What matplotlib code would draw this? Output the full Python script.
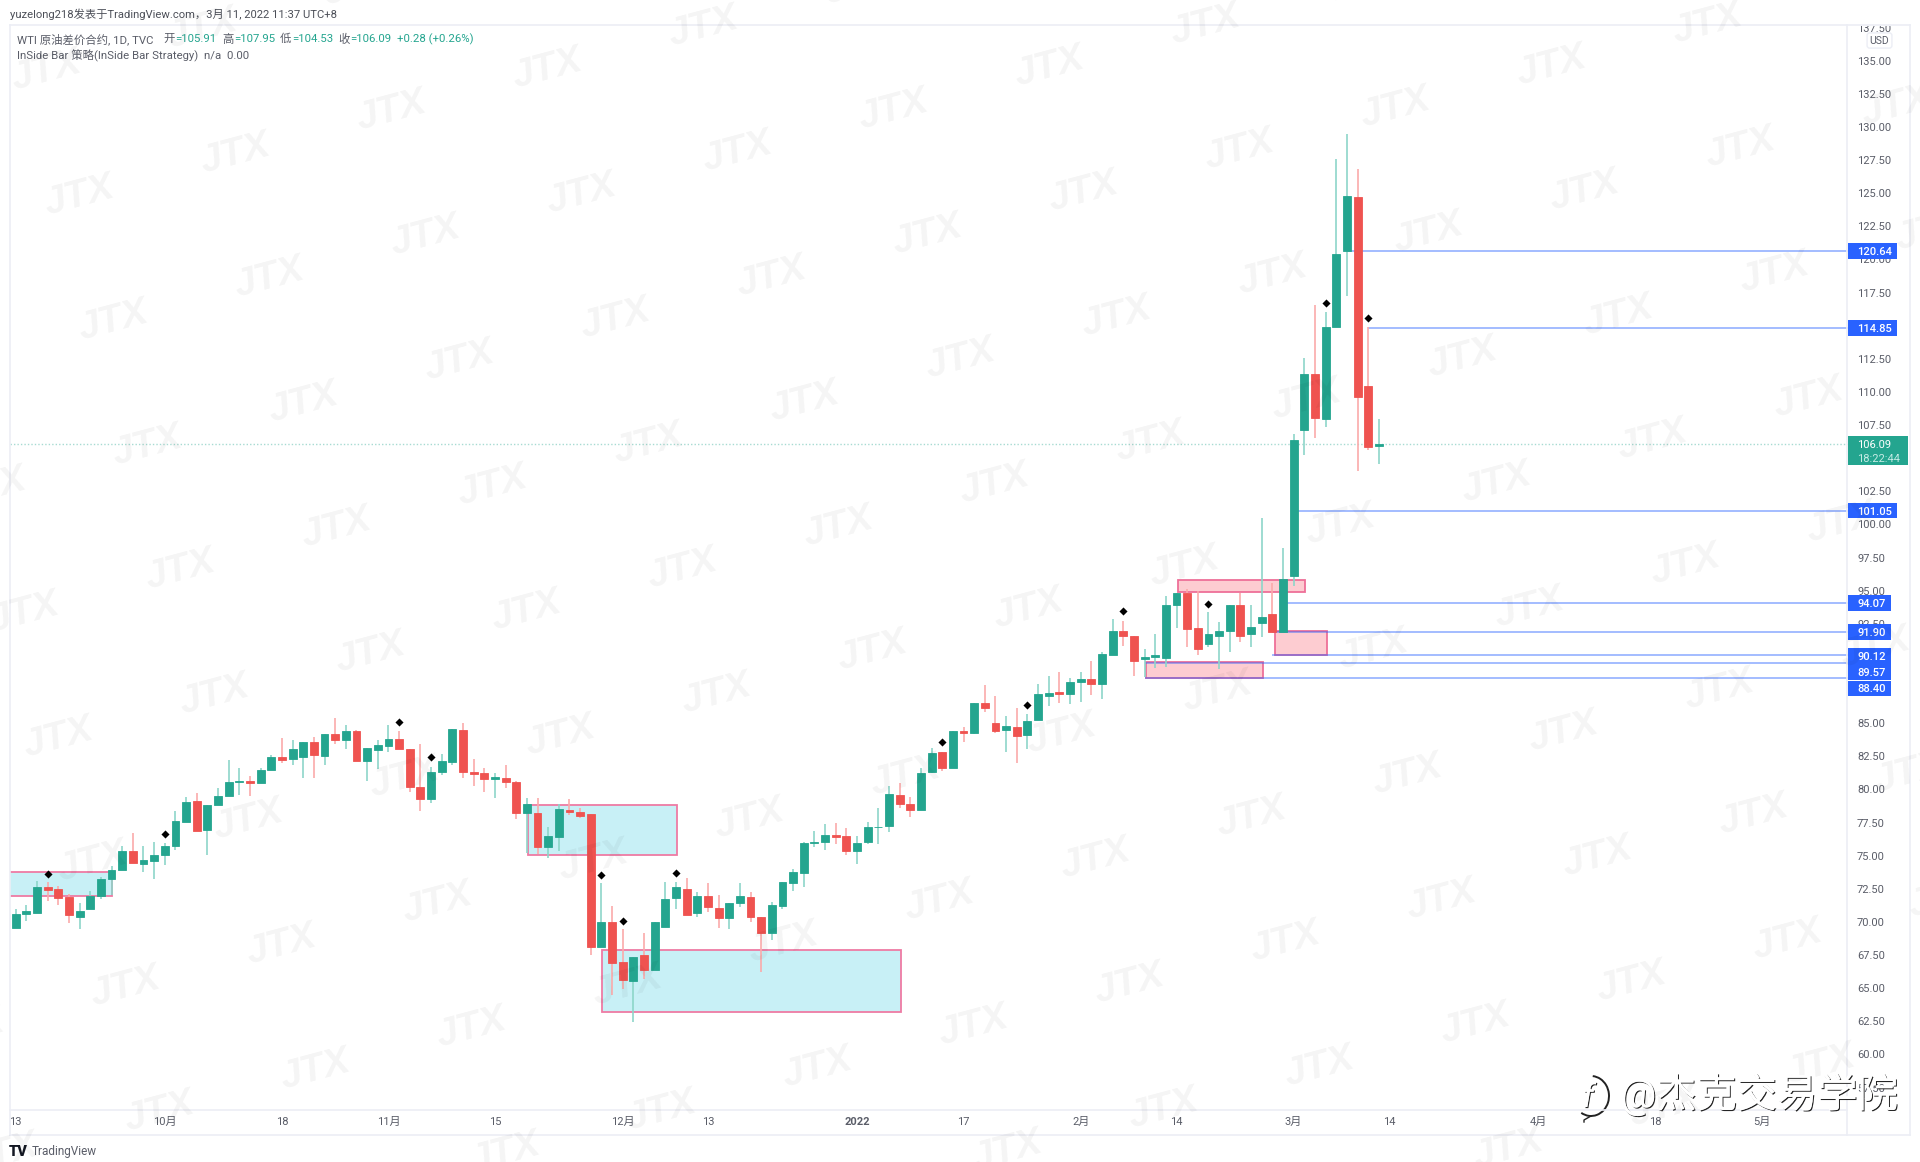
import numpy as np
import matplotlib.pyplot as plt
from matplotlib.patches import Rectangle, Arc
from matplotlib.transforms import Bbox, TransformedBbox, IdentityTransform, blended_transform_factory
import matplotlib.patheffects as pe

plt.rcParams['font.family'] = ['Roboto', 'Noto Sans CJK SC', 'DejaVu Sans']

# daily WTI bars, counted from 13 Sep 2021
opens = [69.57, 70.58, 70.70, 72.67, 72.52, 71.91, 70.38, 71.00, 71.96, 73.22,
         73.92, 75.38, 74.35, 74.63, 75.08, 75.74, 77.57, 79.11, 76.94, 78.83,
         79.51, 80.54, 80.62, 80.52, 81.45, 82.45, 82.30, 82.45, 83.56, 82.53,
         84.19, 83.74, 84.41, 82.15, 83.01, 83.31, 83.84, 83.03, 80.16, 79.28,
         81.30, 82.08, 84.47, 81.35, 81.27, 80.77, 80.89, 80.54, 78.20, 78.25,
         75.63, 76.44, 78.45, 78.32, 78.12, 68.14, 70.02, 67.00, 65.54, 67.51,
         66.35, 69.64, 71.78, 72.51, 70.65, 71.96, 71.08, 70.27, 71.41, 71.88,
         70.35, 69.19, 71.20, 72.97, 73.72, 75.93, 76.00, 76.59, 76.51, 75.36,
         76.01, 77.14, 77.24, 79.61, 78.88, 78.42, 81.34, 82.83, 81.64, 84.44,
         84.24, 86.55, 85.04, 84.51, 84.74, 84.13, 85.22, 87.08, 87.38, 87.23,
         88.11, 88.34, 87.96, 90.17, 91.99, 91.61, 89.82, 89.97, 89.95, 93.90,
         94.86, 92.21, 90.96, 91.60, 91.99, 93.92, 91.76, 92.54, 93.25, 91.89,
         96.11, 107.13, 111.35, 107.93, 114.93, 120.66, 124.69, 110.45, 105.91]
highs = [70.96, 71.26, 73.09, 73.00, 72.72, 72.11, 71.46, 72.31, 73.42, 74.23,
         75.76, 76.69, 75.76, 76.04, 75.94, 78.40, 79.46, 79.76, 78.83, 80.11,
         82.20, 81.60, 81.04, 81.60, 82.60, 83.91, 83.74, 83.56, 83.99, 84.19,
         85.40, 84.87, 84.45, 83.11, 83.74, 84.89, 84.44, 83.03, 83.41, 81.72,
         82.68, 84.54, 85.00, 82.33, 81.60, 81.22, 81.85, 80.66, 79.33, 79.33,
         77.19, 78.90, 79.26, 78.63, 78.12, 72.92, 71.20, 69.44, 67.38, 69.14,
         70.02, 73.04, 73.04, 73.34, 72.29, 72.97, 72.03, 71.46, 72.97, 72.26,
         70.35, 71.48, 73.02, 73.97, 76.06, 76.89, 77.39, 77.49, 77.12, 76.49,
         77.57, 78.63, 80.26, 80.46, 79.46, 81.59, 83.10, 82.83, 84.41, 84.74,
         86.55, 87.91, 87.05, 85.54, 86.12, 85.70, 87.96, 88.56, 88.84, 88.39,
         88.84, 89.70, 90.40, 92.90, 92.71, 91.61, 90.58, 91.73, 94.63, 94.81,
         95.13, 95.00, 93.37, 92.64, 93.92, 94.86, 93.92, 100.52, 95.61, 98.20,
         106.82, 112.54, 116.56, 116.06, 127.56, 129.47, 126.80, 114.88, 107.95]
lows = [69.55, 70.05, 70.70, 71.61, 71.28, 69.90, 69.50, 71.00, 71.71, 72.04,
        73.92, 74.43, 73.77, 73.22, 74.28, 75.43, 77.57, 76.84, 75.06, 78.83,
        79.51, 79.58, 79.51, 80.50, 81.45, 81.97, 81.87, 80.87, 80.87, 81.85,
        83.43, 83.08, 82.15, 80.67, 81.52, 82.86, 83.03, 79.81, 78.38, 79.01,
        81.12, 81.87, 80.84, 80.26, 79.83, 79.33, 80.09, 77.75, 75.18, 75.13,
        74.85, 75.36, 78.07, 77.87, 67.51, 68.14, 64.49, 64.91, 62.47, 65.67,
        66.35, 69.64, 70.98, 70.55, 70.40, 70.78, 69.57, 69.49, 71.10, 70.00,
        66.20, 68.64, 70.95, 72.36, 72.61, 75.63, 75.43, 75.88, 75.05, 74.35,
        75.86, 75.88, 76.82, 78.58, 77.95, 78.42, 81.27, 81.42, 81.64, 83.58,
        84.19, 85.87, 84.29, 82.85, 81.97, 83.05, 85.22, 86.30, 86.50, 86.45,
        86.63, 87.15, 86.85, 90.17, 90.83, 88.59, 88.46, 89.14, 89.22, 92.16,
        90.78, 90.13, 90.73, 89.09, 90.40, 91.11, 90.73, 91.53, 91.89, 91.89,
        95.36, 105.24, 106.55, 107.33, 114.93, 117.24, 104.06, 105.62, 104.53]
closes = [70.58, 70.80, 72.67, 72.44, 71.84, 70.50, 70.80, 71.99, 73.22, 73.92,
          75.36, 74.43, 74.65, 75.03, 75.76, 77.60, 79.03, 76.84, 78.83, 79.53,
          80.54, 80.62, 80.52, 81.47, 82.48, 82.25, 83.03, 83.56, 82.60, 84.19,
          83.74, 84.39, 82.15, 83.11, 83.33, 83.84, 83.03, 80.16, 79.28, 81.32,
          82.18, 84.54, 81.32, 81.14, 80.79, 80.92, 80.56, 78.20, 78.88, 75.63,
          76.46, 78.55, 78.27, 78.02, 68.14, 70.02, 66.93, 65.62, 67.38, 66.35,
          70.02, 71.71, 72.66, 70.55, 71.93, 71.13, 70.27, 71.46, 71.96, 70.35,
          69.19, 71.28, 73.02, 73.75, 75.96, 76.06, 76.59, 76.44, 75.36, 75.96,
          77.17, 77.19, 79.66, 78.88, 78.43, 81.27, 82.73, 81.64, 84.41, 84.29,
          86.55, 86.15, 84.44, 84.76, 84.01, 85.17, 87.20, 87.28, 87.23, 88.14,
          88.34, 87.96, 90.20, 91.99, 91.61, 89.72, 89.97, 90.12, 93.90, 94.81,
          92.11, 90.60, 91.71, 91.99, 93.92, 91.61, 92.26, 92.99, 91.89, 95.86,
          106.37, 111.35, 108.06, 114.93, 120.39, 124.81, 109.64, 105.82, 106.09]

signal_bars = [3, 14, 36, 39, 55, 57, 62, 87, 95, 104, 112, 123, 127]
signal_prices = [73.62, 76.61, 85.07, 82.43, 73.54, 70.09, 73.67, 83.56, 86.35, 93.47, 94.00, 116.69, 115.56]

# zones: left bar, right bar, bottom, top
demand_zones = [(-6, 9.0, 71.98, 73.79), (48.1, 62.1, 75.03, 78.83), (55.05, 83.1, 63.23, 67.86)]
supply_zones = [(109.1, 121.1, 94.88, 95.81), (118.2, 123.1, 90.15, 91.96), (106.1, 117.1, 88.44, 89.64)]

levels = [120.64, 114.85, 101.05, 94.07, 91.90, 90.12, 89.57, 88.40]
level_starts = [125, 127, 120, 119, 118, 118, 106, 106]
# the three lowest tags get pushed apart so they stay readable
level_tag_prices = [120.64, 114.85, 101.05, 94.07, 91.90, 90.05, 88.85, 87.62]
last_price = 106.09
countdown = '18:22:44'

date_ticks = [0, 14, 25, 35, 45, 57, 65, 79, 89, 100, 109, 120, 129, 143, 154, 164]
date_labels = ['13', '10月', '18', '11月', '15', '12月', '13', '2022', '17', '2月', '14', '3月', '14', '4月', '18', '5月']
price_ticks = np.arange(57.5, 140, 2.5)

UP = '#24a58f'
DOWN = '#ef5350'
UP_WICK = '#8dd6c9'
DOWN_WICK = '#fbaaaa'
BLUE = '#2962ff'
FRAME = '#eceef5'
TEXT = '#5a5d68'

W, H = 1920, 1162
fig = plt.figure(figsize=(W / 100, H / 100), dpi=100, facecolor='white')
ax = fig.add_axes([10 / W, 1 - 1110 / H, 1838 / W, 1085 / H])
ax.set_xlim(-0.535, 172.05)
ax.set_ylim(55.81, 137.69)
for s in ax.spines.values():
    s.set_visible(False)

x = np.arange(len(opens))
o = np.array(opens)
c = np.array(closes)
up = c >= o

# zones sit under everything else
for left, right, lo, hi in demand_zones:
    ax.add_patch(Rectangle((left, lo), right - left, hi - lo, fc='#c8f0f6', ec='#ee7ba4', lw=1.3, zorder=1))
for left, right, lo, hi in supply_zones:
    ax.add_patch(Rectangle((left, lo), right - left, hi - lo, fc='#fdccd1', ec='#ee6f98', lw=1.3, zorder=1))

for lv, st in zip(levels, level_starts):
    ax.plot([st, 172.05], [lv, lv], color=BLUE, alpha=0.5, lw=1.2, zorder=2, solid_capstyle='butt')
ax.axhline(last_price, color=UP, alpha=0.4, lw=1, ls=(0, (1, 1.5)), zorder=2)

# candles
ax.vlines(x, lows, highs, colors=[UP_WICK if u else DOWN_WICK for u in up], lw=1.2, zorder=3)
ax.bar(x, np.abs(c - o), bottom=np.minimum(o, c), width=0.74, color=[UP if u else DOWN for u in up],
       edgecolor=[UP if u else DOWN for u in up], lw=0.6, zorder=4)
ax.scatter(signal_bars, signal_prices, marker='D', s=17, color='black', lw=0, zorder=5)

# time axis
ax.set_xticks(date_ticks)
ax.set_xticklabels(date_labels, fontsize=8, color=TEXT)
ax.get_xticklabels()[7].set_fontweight('bold')
ax.tick_params(axis='x', length=0, pad=5)

# price axis, the top label gets cut by the pane edge
ax.yaxis.tick_right()
ax.set_yticks(price_ticks)
ax.set_yticklabels(['%.2f' % p for p in price_ticks], fontsize=8, color=TEXT)
ax.tick_params(axis='y', length=0, pad=6.5)
pane = TransformedBbox(Bbox([[0, 0], [W, H - 26]]), IdentityTransform())
for lab in ax.get_yticklabels():
    lab.set_clip_box(pane)
    lab.set_clip_on(True)

# price tags on the axis
tag_tr = blended_transform_factory(ax.transAxes, ax.transData)
px = 1 / 1838
for lv, tag in zip(levels, level_tag_prices):
    w = 49 if lv >= 100 else 43
    ax.add_patch(Rectangle((1.0, tag - 0.6), w * px, 1.2, transform=tag_tr, fc=BLUE, ec='none', clip_on=False, zorder=6))
    ax.text(1.0 + 9.5 * px, tag, '%.2f' % lv, transform=tag_tr, color='white', fontsize=8, fontweight='medium',
            va='center_baseline', ha='left', clip_on=False, zorder=7)
ax.add_patch(Rectangle((1.0, last_price - 1.6), 60 * px, 2.19, transform=tag_tr, fc=UP, ec='none', clip_on=False, zorder=6))
ax.text(1.0 + 9 * px, last_price, '%.2f' % last_price, transform=tag_tr, color='white', fontsize=8,
        va='center_baseline', clip_on=False, zorder=7)
ax.text(1.0 + 9 * px, last_price - 1.06, countdown, transform=tag_tr, color='#c4ebe4', fontsize=8,
        va='center_baseline', clip_on=False, zorder=7)

# overlay in pixel coordinates for the frame, captions and watermarks
top = fig.add_axes([0, 0, 1, 1], zorder=10)
top.set_xlim(0, W)
top.set_ylim(H, 0)
top.axis('off')

top.plot([10, 1910], [25, 25], color=FRAME, lw=1.2)
top.plot([10, 1910], [1135, 1135], color=FRAME, lw=1.2)
top.plot([10, 1847], [1110, 1110], color=FRAME, lw=1.2)
top.plot([10, 10], [25, 1135], color=FRAME, lw=1.2)
top.plot([1847, 1847], [25, 1135], color=FRAME, lw=1.2)
top.plot([1910, 1910], [25, 1135], color=FRAME, lw=1.2)

top.text(1879.5, 40.5, 'USD', fontsize=7.5, color=TEXT, ha='center', va='center',
         bbox=dict(boxstyle='round,pad=0.25', fc='white', ec=FRAME, lw=1))

top.text(10, 14, 'yuzelong218发表于TradingView.com，3月 11, 2022 11:37 UTC+8', fontsize=8.1, color='#4c4f58', va='center')
top.text(17, 39, 'WTI 原油差价合约, 1D, TVC', fontsize=8.2, color=TEXT, va='center')
for xp, t, col in [(163, '开', TEXT), (175, '=105.91', UP), (222, '高', TEXT), (234, '=107.95', UP),
                   (280, '低', TEXT), (292, '=104.53', UP), (338, '收', TEXT), (350, '=106.09', UP),
                   (397, '+0.28 (+0.26%)', UP)]:
    top.text(xp, 39, t, fontsize=8.2, color=col, va='center')
top.text(17, 56, 'InSide Bar 策略(InSide Bar Strategy)  n/a  0.00', fontsize=8.2, color=TEXT, va='center')

top.text(9, 1152, 'TV', fontsize=10.5, fontweight='black', color='#131722', va='center')
top.text(32, 1152, 'TradingView', fontsize=8.5, color=TEXT, va='center')

# repeated JTX watermark
for i in range(-4, 16):
    for j in range(-3, 12):
        wx = 79.6 + 156 * i + 33.7 * j
        wy = 195.9 - 42.2 * i + 124.9 * j
        if -40 < wx < W + 40 and -40 < wy < H + 40:
            top.text(wx, wy, 'JTX', fontsize=28, family=['Liberation Sans'], fontweight='bold', fontstyle='italic',
                     rotation=15, color='black', alpha=0.045, ha='center', va='center')

# account stamp
stamp = [pe.withSimplePatchShadow(offset=(0.8, -0.8), shadow_rgbFace='black', alpha=0.85), pe.Normal()]
top.add_patch(Arc((1591, 1096), 36, 40, theta1=-85, theta2=120, ec='#222222', lw=1.4))
top.plot([1591, 1584, 1584], [1116, 1120, 1122], color='#222222', lw=1)
top.text(1588, 1098, 'f', fontsize=24, fontstyle='italic', color='white', ha='center', va='center', path_effects=stamp)
top.text(1620, 1094, '@杰克交易学院', fontsize=29, color='white', va='center', path_effects=stamp)

fig.savefig('out.png', dpi=100)
